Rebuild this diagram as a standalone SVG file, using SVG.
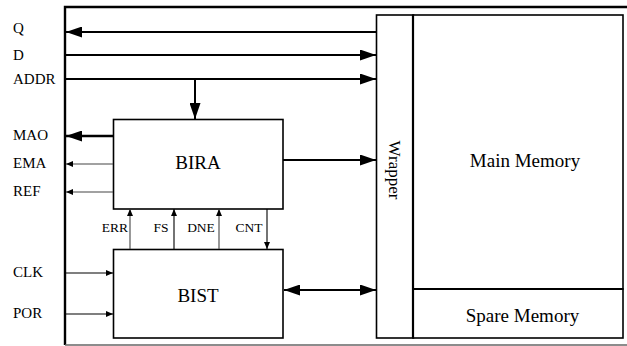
<svg xmlns="http://www.w3.org/2000/svg" width="627" height="346" viewBox="0 0 627 346" font-family="'Liberation Serif', 'Times New Roman', 'DejaVu Serif', serif">
<style>
text{font-family:"Liberation Serif","Times New Roman","DejaVu Serif",serif;fill:#000}
.lbl{font-size:15px}
.sig{font-size:13.5px}
.big{font-size:19px}
.box{fill:#fff;stroke:#000;stroke-width:1.6}
.thick{stroke:#000;stroke-width:2.4;fill:none}
.bus{stroke:#000;stroke-width:2;fill:none}
.thin{stroke:#444;stroke-width:1.1;fill:none}
.thinb{stroke:#000;stroke-width:1.1;fill:none}
</style>
<defs>
<marker id="ab" markerUnits="userSpaceOnUse" markerWidth="17" markerHeight="11" refX="16" refY="5.5" orient="auto-start-reverse" viewBox="0 0 17 11">
<path d="M0,0 L16,5.5 L0,11 z" fill="#000"/>
</marker>
<marker id="as" markerUnits="userSpaceOnUse" markerWidth="8" markerHeight="6" refX="7" refY="3" orient="auto" viewBox="0 0 8 6">
<path d="M0,0 L7,3 L0,6 z" fill="#000"/>
</marker>
</defs>
<rect width="627" height="346" fill="#fff"/>
<g id="frame">
<path d="M630 7 H65 V345" class="thick" stroke-width="2.6"/>
<path d="M65 345 H630" stroke="#666" stroke-width="1.5" fill="none"/>
</g>
<g id="labels">
<text class="lbl" x="13" y="33">Q</text>
<text class="lbl" x="13" y="60">D</text>
<text class="lbl" x="13" y="84">ADDR</text>
<text class="lbl" x="13" y="140">MAO</text>
<text class="lbl" x="13" y="168">EMA</text>
<text class="lbl" x="13" y="196">REF</text>
<text class="lbl" x="13" y="277">CLK</text>
<text class="lbl" x="13" y="318">POR</text>
</g>
<g id="wrapper">
<rect class="box" x="376.5" y="15" width="37" height="323"/>
<text transform="translate(389,170) rotate(90)" text-anchor="middle" style="font-size:17px">Wrapper</text>
</g>
<g id="main-memory">
<rect class="box" x="413" y="15" width="210" height="274"/>
<text class="big" x="525" y="167" text-anchor="middle">Main Memory</text>
</g>
<g id="spare-memory">
<rect class="box" x="413" y="289" width="210" height="49"/>
<text class="big" x="522.5" y="322" text-anchor="middle">Spare Memory</text>
</g>
<path d="M413 15 V338" stroke="#000" stroke-width="2.2"/>
<path d="M413 289 H623" stroke="#000" stroke-width="2"/>
<g id="bira">
<rect class="box" x="113.5" y="119.5" width="169.5" height="89.5"/>
<text class="big" x="198" y="169" text-anchor="middle">BIRA</text>
</g>
<g id="bist">
<rect class="box" x="113.5" y="249.5" width="169.5" height="88.5"/>
<text class="big" x="198" y="302" text-anchor="middle">BIST</text>
</g>
<g id="connectors">
<path d="M376 32 H66" class="bus" marker-end="url(#ab)"/>
<path d="M66 55 H376" class="bus" marker-end="url(#ab)"/>
<path d="M66 79 H376" class="bus" marker-end="url(#ab)"/>
<path d="M195 79 V119" class="bus" marker-end="url(#ab)"/>
<path d="M113 136 H66" class="thick" marker-end="url(#ab)"/>
<path d="M113 164 H66" class="thin" marker-end="url(#as)"/>
<path d="M113 192 H66" class="thin" marker-end="url(#as)"/>
<path d="M283 160 H376" class="bus" marker-end="url(#ab)"/>
<path d="M284 290 H376" class="bus" marker-start="url(#ab)" marker-end="url(#ab)"/>
<path d="M130 249 V209" class="thin" marker-end="url(#as)"/>
<path d="M174 249 V209" class="thinb" marker-end="url(#as)"/>
<path d="M219 249 V209" class="thin" marker-end="url(#as)"/>
<path d="M267 209 V249" class="thinb" marker-end="url(#as)"/>
<path d="M66 273 H113" class="thinb" marker-end="url(#as)"/>
<path d="M66 314 H113" class="thinb" marker-end="url(#as)"/>
</g>
<g id="signal-labels">
<text class="sig" x="128" y="232" text-anchor="end">ERR</text>
<text class="sig" x="161" y="232" text-anchor="middle">FS</text>
<text class="sig" x="201" y="232" text-anchor="middle">DNE</text>
<text class="sig" x="249" y="232" text-anchor="middle">CNT</text>
</g>
</svg>
